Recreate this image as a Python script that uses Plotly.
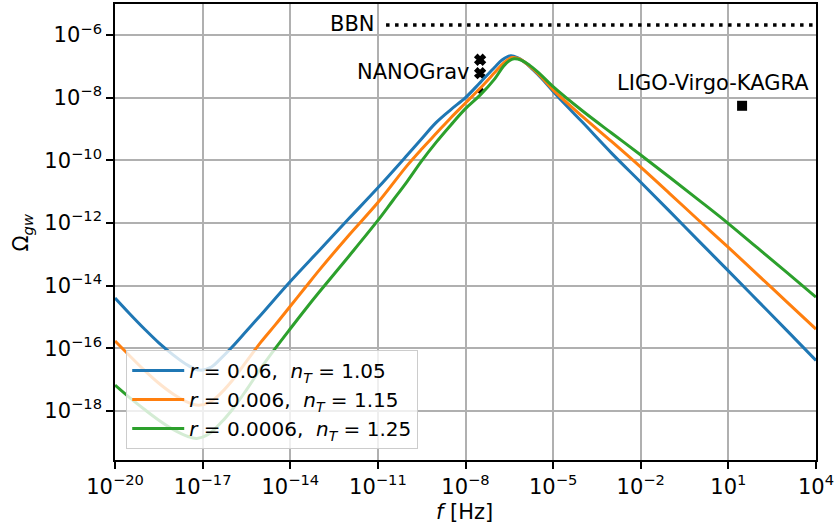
import plotly.graph_objects as go

# ---- data (log10 values) ----
logf_a = [-20, -19.5, -19, -18.5, -18, -17.5, -17.1, -16.7, -16.4, -16, -15.5, -15, -14, -13, -12, -11, -10,
          -9.5, -9, -8.5, -8, -7.5, -7, -6.75, -6.45, -6.2, -6.0, -5.7, -5.4, -5, -4.5, -4, -3, -2, -1, 0, 1, 2, 3, 4]
logO_a = [-14.40, -14.90, -15.38, -15.83, -16.22, -16.55, -16.70, -16.60, -16.35, -15.97, -15.45, -14.93, -13.87,
          -12.87, -11.87, -10.88, -9.84, -9.31, -8.79, -8.38, -8.00, -7.52, -7.03, -6.80, -6.66, -6.73, -6.85, -7.10,
          -7.38, -7.80, -8.30, -8.78, -9.77, -10.70, -11.64, -12.59, -13.53, -14.48, -15.43, -16.39]

logf_b = [-20, -19.5, -19, -18.5, -18, -17.5, -17.15, -16.8, -16.5, -16, -15.5, -15, -14.5, -14, -13.5, -13, -12,
          -11, -10, -9.5, -9, -8.5, -8, -7.5, -7, -6.7, -6.4, -6.15, -5.9, -5.5, -5, -4, -3, -2, -1, 0, 1, 2, 3, 4]
logO_b = [-15.77, -16.24, -16.70, -17.12, -17.47, -17.73, -17.82, -17.75, -17.55, -17.05, -16.42, -15.80, -15.24,
          -14.66, -14.08, -13.50, -12.40, -11.35, -10.17, -9.64, -9.14, -8.64, -8.17, -7.70, -7.20, -6.90, -6.72,
          -6.76, -6.92, -7.25, -7.75, -8.60, -9.40, -10.22, -11.07, -11.93, -12.78, -13.65, -14.52, -15.39]

logf_c = [-20, -19.5, -19, -18.5, -18, -17.5, -17.2, -16.8, -16.5, -16, -15.5, -15, -14.5, -14, -13.5, -13, -12,
          -11, -10.5, -10, -9.5, -9, -8.5, -8, -7.5, -7, -6.7, -6.5, -6.34, -6.1, -5.8, -5.5, -5, -4, -3, -2, -1,
          0, 1, 2, 3, 4]
logO_c = [-17.18, -17.58, -17.95, -18.30, -18.60, -18.82, -18.88, -18.75, -18.50, -17.98, -17.33, -16.63, -15.99,
          -15.38, -14.78, -14.20, -13.07, -11.92, -11.30, -10.68, -10.02, -9.42, -8.87, -8.35, -7.92, -7.40, -7.00,
          -6.82, -6.76, -6.80, -6.97, -7.20, -7.65, -8.42, -9.13, -9.83, -10.55, -11.28, -12.02, -12.80, -13.58,
          -14.37]

labels = ["<i>r</i> = 0.06,  <i>n<sub>T</sub></i> = 1.05",
          "<i>r</i> = 0.006,  <i>n<sub>T</sub></i> = 1.15",
          "<i>r</i> = 0.0006,  <i>n<sub>T</sub></i> = 1.25"]
colors = ["#1f77b4", "#ff7f0e", "#2ca02c"]

bbn_logf = [-10.72, 4.0]
bbn_logO = [-5.68, -5.68]

nano_logf = [-7.5, -7.5, -7.48]
nano_logO = [-6.79, -7.22, -7.78]
nano_size = [9, 9, 4]

lvk_logf = [1.47]
lvk_logO = [-8.26]

xtick_exp = [-20, -17, -14, -11, -8, -5, -2, 1, 4]
ytick_exp = [-6, -8, -10, -12, -14, -16, -18]

FONT = "DejaVu Sans"
FS = 21

def p(v):
    return [10 ** x for x in v]

def lab(e):
    s = str(e).replace("-", "\u2212")
    return "10<sup>" + s + "</sup>"

fig = go.Figure()

# markers first (curves drawn over)
fig.add_trace(go.Scatter(x=p(nano_logf), y=p(nano_logO), mode="markers", showlegend=False,
                         marker=dict(symbol="x", size=nano_size, color="black", opacity=1,
                                     line=dict(width=1.5, color="black"))))
fig.add_trace(go.Scatter(x=p(lvk_logf), y=p(lvk_logO), mode="markers", showlegend=False,
                         marker=dict(symbol="square", size=10, color="black", line=dict(width=0))))
fig.add_trace(go.Scatter(x=p(bbn_logf), y=p(bbn_logO), mode="lines", showlegend=False,
                         line=dict(color="black", width=3.5, dash="3.5px,5.5px")))

for lf, lo, name, c in zip([logf_a, logf_b, logf_c], [logO_a, logO_b, logO_c], labels, colors):
    fig.add_trace(go.Scatter(x=p(lf), y=p(lo), mode="lines", name=name,
                             line=dict(color=c, width=3, shape="spline", smoothing=1.0)))

axis_common = dict(type="log", showline=True, linecolor="black", linewidth=1.6, mirror=True,
                   ticks="outside", ticklen=7, tickwidth=1.6, tickcolor="black",
                   showgrid=True, gridcolor="#b0b0b0", gridwidth=1.5, zeroline=False,
                   ticklabeloverflow="allow",
                   tickfont=dict(family=FONT, size=FS, color="black"))

fig.update_xaxes(range=[-20.001, 4.001], tickmode="array", tickvals=p(xtick_exp),
                 ticktext=[lab(e) for e in xtick_exp], **axis_common)
fig.update_yaxes(range=[-19.57, -5.01], tickmode="array", tickvals=p(ytick_exp),
                 ticktext=[lab(e) for e in ytick_exp], **axis_common)

fig.add_annotation(x=-11.02, y=-5.66, xref="x", yref="y", text="BBN", showarrow=False,
                   xanchor="right", yanchor="middle", font=dict(family=FONT, size=FS, color="black"))
fig.add_annotation(x=-7.78, y=-7.18, xref="x", yref="y", text="NANOGrav", showarrow=False,
                   xanchor="right", yanchor="middle", font=dict(family=FONT, size=FS, color="black"))
fig.add_annotation(x=3.84, y=-7.52, xref="x", yref="y", text="LIGO-Virgo-KAGRA", showarrow=False,
                   xanchor="right", yanchor="middle", font=dict(family=FONT, size=FS, color="black"))

# axis titles
fig.add_annotation(x=-0.132, y=0.5, xref="paper", yref="paper", text="Ω<sub><i>gw</i></sub>",
                   showarrow=False, textangle=-90, xanchor="center", yanchor="middle",
                   font=dict(family=FONT, size=FS, color="black"))
fig.add_annotation(x=0.499, y=-0.1135, xref="paper", yref="paper", text="<i>f</i> [Hz]",
                   showarrow=False, xanchor="center", yanchor="middle",
                   font=dict(family=FONT, size=FS, color="black"))

fig.update_layout(
    width=836, height=527,
    margin=dict(l=115, r=18, t=2, b=67),
    paper_bgcolor="white", plot_bgcolor="white",
    font=dict(family=FONT, size=FS, color="black"),
    legend=dict(x=0.016, y=0.024, xanchor="left", yanchor="bottom",
                bgcolor="rgba(255,255,255,0.8)", bordercolor="#cccccc", borderwidth=1,
                font=dict(family=FONT, size=20, color="black"), itemwidth=52,
                tracegroupgap=0),
)

fig.write_html("out.html", config={"displayModeBar": False},
               post_script="document.body.style.margin='0';document.body.style.overflow='hidden';")
